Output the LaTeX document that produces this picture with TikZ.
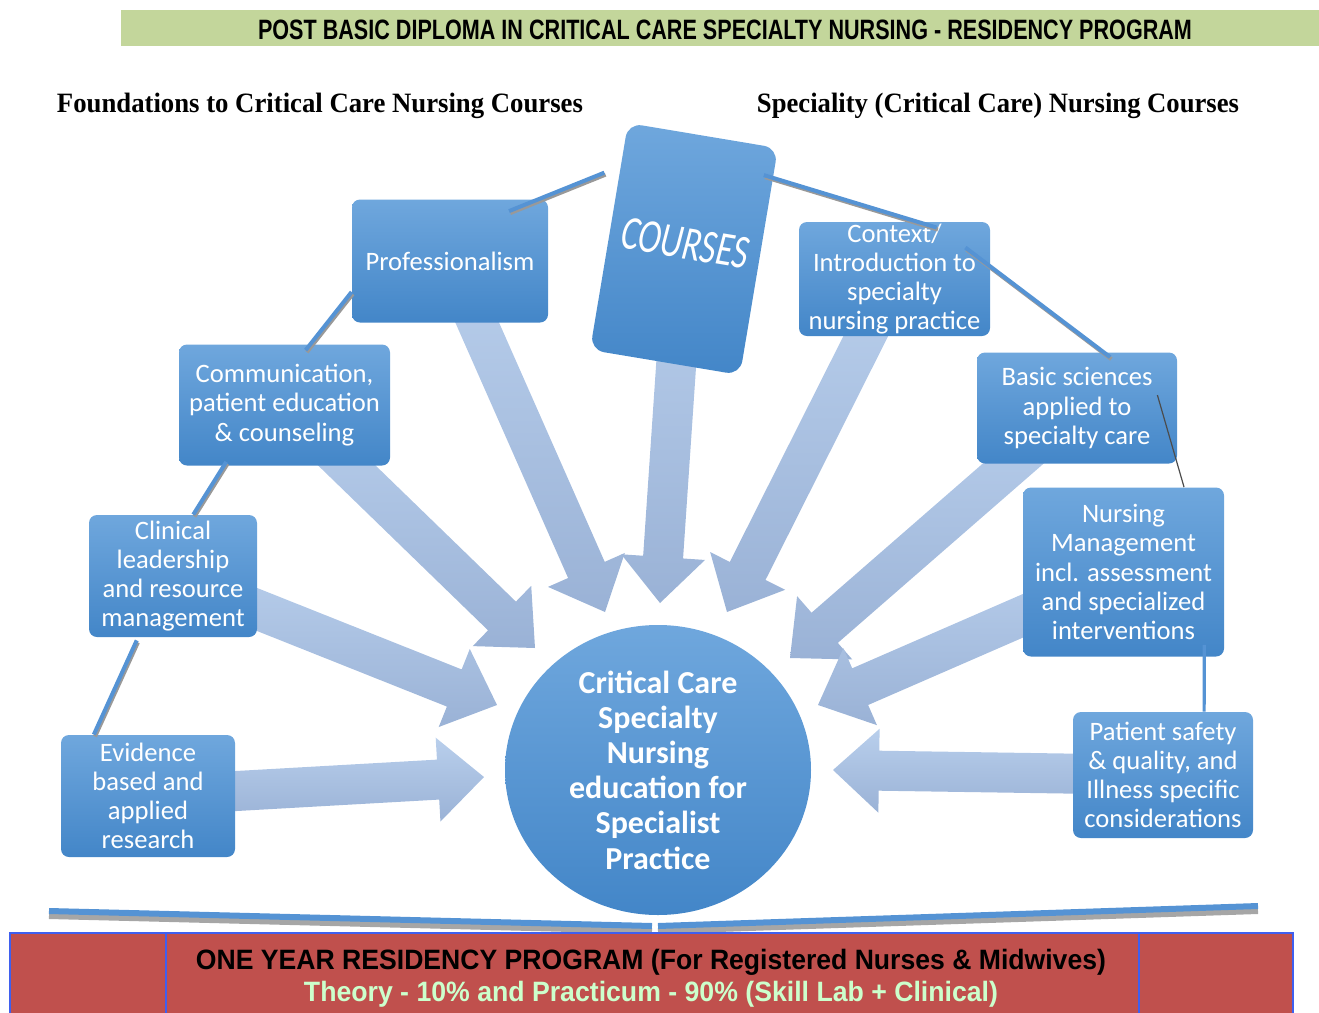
\documentclass[tikz,border=0pt]{standalone}
\usepackage{fontspec}
\setmainfont{Liberation Serif}
\newfontfamily\calfont{Carlito}
\newfontfamily\arialfont{Liberation Sans}
\usepackage{graphicx}
\usetikzlibrary{calc,shapes.geometric}
\pgfdeclarelayer{back}
\pgfsetlayers{back,main}

\definecolor{boxtop}{HTML}{6FA7DD}
\definecolor{boxbot}{HTML}{4386C8}
\definecolor{arrtop}{HTML}{B9CFEC}
\definecolor{arrbot}{HTML}{9AB2D6}
\definecolor{bandgreen}{HTML}{C3D69B}
\definecolor{bandred}{HTML}{C0504D}
\definecolor{bandline}{HTML}{3F5FEF}
\definecolor{linkblue}{HTML}{5593D4}
\definecolor{textgreen}{HTML}{CCFFCC}

\tikzset{
  coursebox/.style={rectangle, rounded corners=4pt, top color=boxtop, bottom color=boxbot,
    text=white, align=center, inner sep=0pt, font=\calfont\fontsize{13.3}{14.6}\selectfont},
  link/.style={draw=linkblue, line width=2pt,
    preaction={draw=gray!80, line width=2pt, transform canvas={xshift=0.6pt, yshift=-1pt}}},
  bookbar/.style={draw=linkblue, line width=3pt,
    preaction={draw=gray!70, line width=3pt, transform canvas={yshift=-2.5pt}}},
  head/.style={font=\bfseries\fontsize{14}{16}\selectfont, inner sep=0pt},
  bandtext/.style={font=\arialfont\bfseries\fontsize{14}{16}\selectfont, inner sep=0pt}
}

% fat shaded arrow from a node to a tip coordinate
\newcommand{\fatarrow}[2]{%
  \coordinate (#1-hb) at ($(#2)!23pt!(#1)$);
  \shade[top color=arrtop, bottom color=arrbot]
    ($(#1)!10pt!90:(#2)$) -- ($(#1-hb)!10pt!90:(#2)$) -- ($(#1-hb)!21pt!90:(#2)$) -- (#2)
    -- ($(#1-hb)!21pt!-90:(#2)$) -- ($(#1-hb)!10pt!-90:(#2)$) -- ($(#1)!10pt!-90:(#2)$) -- cycle;
}

\begin{document}
\begin{tikzpicture}[x=0.5pt, y=-0.5pt]
\useasboundingbox (0,0) rectangle (1319,1013);

% title band
\fill[bandgreen] (121,10) rectangle (1319,46);
\node[bandtext] (title) at (725,30)
  {\resizebox{467pt}{\height}{POST BASIC DIPLOMA IN CRITICAL CARE SPECIALTY NURSING - RESIDENCY PROGRAM}};

\node[head] (lefthead) at (320,106) {\resizebox{263pt}{\height}{Foundations to Critical Care Nursing Courses}};
\node[head] (righthead) at (998,106) {\resizebox{241pt}{\height}{Speciality (Critical Care) Nursing Courses}};

% centre
\node[ellipse, minimum width=153pt, minimum height=145pt, top color=boxtop, bottom color=boxbot,
  text=white, align=center, inner sep=0pt, font=\calfont\bfseries\fontsize{16}{17.6}\selectfont]
  (core) at (658,770) {Critical Care\\Specialty\\Nursing\\education for\\Specialist\\Practice};

\node[coursebox, rotate=-9.5, minimum width=76pt, minimum height=115pt, rounded corners=7pt,
  font=\calfont\itshape\fontsize{24}{26}\selectfont] (courses) at (684,249)
  {\raisebox{6pt}{\scalebox{0.72}[1]{COURSES}}};

% foundation courses
\node[coursebox, minimum width=98pt, minimum height=61.5pt] (prof) at (450,261) {Professionalism};
\node[coursebox, minimum width=105.5pt, minimum height=60.5pt] (comm) at (284.5,405)
  {Communication,\\patient education\\\& counseling};
\node[coursebox, minimum width=84pt, minimum height=61pt] (clin) at (173,576)
  {Clinical\\leadership\\and resource\\management};
\node[coursebox, minimum width=87pt, minimum height=61pt] (evid) at (148,796)
  {Evidence\\based and\\applied\\research};

% specialty courses
\node[coursebox, minimum width=95.5pt, minimum height=57pt] (ctx) at (894.5,279)
  {Context/\\Introduction to\\specialty\\nursing practice};
\node[coursebox, minimum width=100pt, minimum height=55.5pt] (basic) at (1077,408)
  {Basic sciences\\applied to\\specialty care};
\node[coursebox, minimum width=100.5pt, minimum height=84.5pt] (nmgmt) at (1123.5,572)
  {Nursing\\Management\\incl. assessment\\and specialized\\interventions};
\node[coursebox, minimum width=90pt, minimum height=63pt] (psafe) at (1163,775)
  {Patient safety\\\& quality, and\\Illness specific\\considerations};

\coordinate (prof-tip) at (605,612);
\coordinate (comm-tip) at (535,648);
\coordinate (clin-tip) at (497,705);
\coordinate (evid-tip) at (484,777);
\coordinate (courses-tip) at (660,603);
\coordinate (ctx-tip) at (727,612);
\coordinate (basic-tip) at (790,658);
\coordinate (nmgmt-tip) at (818,705);
\coordinate (psafe-tip) at (833,770);

\begin{pgfonlayer}{back}
\fatarrow{prof}{prof-tip}
\fatarrow{comm}{comm-tip}
\fatarrow{clin}{clin-tip}
\fatarrow{evid}{evid-tip}
\fatarrow{courses}{courses-tip}
\fatarrow{ctx}{ctx-tip}
\fatarrow{basic}{basic-tip}
\fatarrow{nmgmt}{nmgmt-tip}
\fatarrow{psafe}{psafe-tip}
\end{pgfonlayer}

% links between courses
\draw[link] ($(courses.north west)!0.22!(courses.south west)+(-15,0)$) -- ($(prof.north)!0.6!(prof.north east)+(0,12)$);
\draw[link] ($(prof.south west)!0.25!(prof.north west)$) -- ($(comm.north)!0.2!(comm.north east)+(0,6)$);
\draw[link] ($(comm.south west)!0.45!(comm.south)+(0,-4)$) -- ($(clin.north)!0.24!(clin.north east)$);
\draw[link] ($(clin.south west)!0.57!(clin.south)+(0,3)$) -- ($(evid.north west)!0.38!(evid.north)$);
\draw[link] ($(courses.north east)!0.12!(courses.south east)+(-10,0)$) -- ($(ctx.north)!0.44!(ctx.north east)+(0,6)$);
\draw[link] ($(ctx.north east)+(-25,26)$) -- ($(basic.north)!0.33!(basic.north east)+(0,5)$);
\draw[draw=black!70, line width=0.6pt] ($(basic.north east)+(-20,43)$) -- ($(nmgmt.north)!0.6!(nmgmt.north east)$);
\draw[draw=linkblue, line width=1.6pt] ($(nmgmt.south)!0.8!(nmgmt.south east)+(0,-12)$) -- ($(psafe.north)!0.455!(psafe.north east)$);

% open book
\coordinate (bookL) at (49,911);
\coordinate (bookM) at (655,926);
\coordinate (bookR) at (1258,906);
\draw[bookbar] (bookL) -- ($(bookM)+(-3,0)$);
\draw[bookbar] ($(bookM)+(3,0)$) -- (bookR);

% residency band
\draw[fill=bandred, draw=bandline, line width=0.6pt] (10,933) rectangle (1293,1015);
\draw[bandline, line width=0.6pt] (166,933) -- (166,1013);
\draw[bandline, line width=0.6pt] (1139,933) -- (1139,1013);
\node[bandtext] (resid) at (651,962)
  {\resizebox{455pt}{\height}{ONE YEAR RESIDENCY PROGRAM (For Registered Nurses \& Midwives)}};
\node[bandtext, text=textgreen] (ratio) at (651,994)
  {\resizebox{347pt}{\height}{Theory - 10\% and Practicum - 90\% (Skill Lab + Clinical)}};

\end{tikzpicture}
\end{document}
